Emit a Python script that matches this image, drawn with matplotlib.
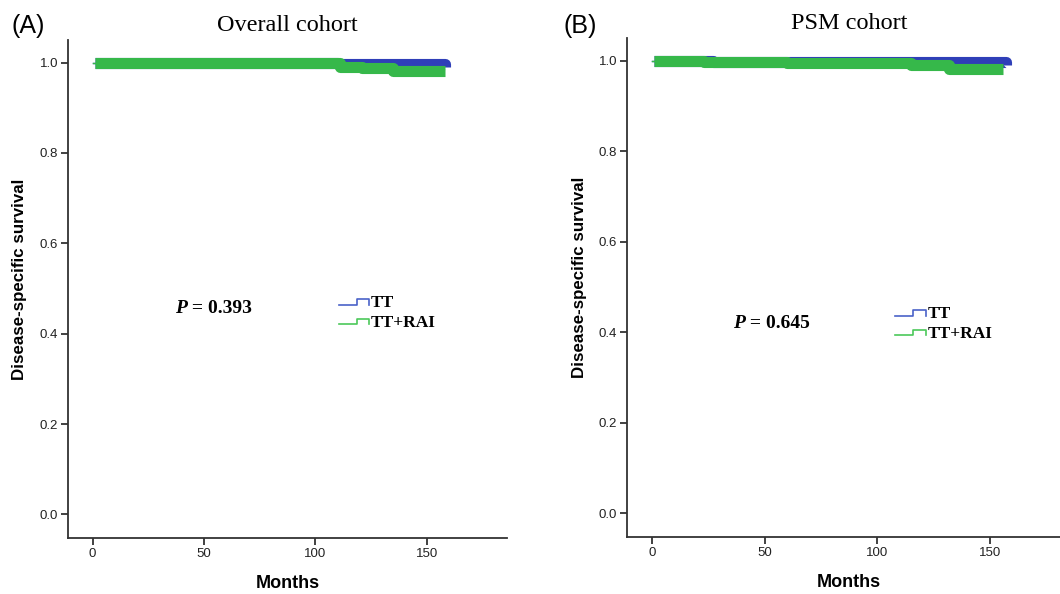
import matplotlib
matplotlib.use("Agg")
import matplotlib.pyplot as plt
from matplotlib.legend_handler import HandlerBase
from matplotlib.lines import Line2D

# Kaplan-Meier step curves (months, survival)
overall_tt_t = [0, 1, 40, 85, 110, 156, 158]
overall_tt_s = [1.0, 1.0, 0.999, 0.998, 0.997, 0.996, 0.991]
overall_rai_t = [0, 1, 45, 111, 121, 135, 158]
overall_rai_s = [1.0, 1.0, 0.998, 0.991, 0.987, 0.982, 0.982]

psm_tt_t = [0, 1, 27, 63, 118, 155, 157]
psm_tt_s = [1.0, 1.0, 0.997, 0.997, 0.997, 0.997, 0.990]
psm_rai_t = [0, 1, 23, 60, 115, 132, 156]
psm_rai_s = [1.0, 1.0, 0.997, 0.995, 0.990, 0.982, 0.982]

panel_tags = ["(A)", "(B)"]
panel_titles = ["Overall cohort", "PSM cohort"]
p_values = ["0.393", "0.645"]
group_names = ["TT", "TT+RAI"]

x_ticks = [0, 50, 100, 150]
y_ticks = [0.0, 0.2, 0.4, 0.6, 0.8, 1.0]

BLUE = "#2f3fb8"
GREEN = "#36b84a"
LEG_BLUE = "#4a62c8"
LEG_GREEN = "#4cc85a"
AXIS = "#333333"

SERIF = "Liberation Serif"
SANS = "Liberation Sans"


class StepHandler(HandlerBase):
    """Draws the little step glyph SPSS uses in its survival legends."""

    def create_artists(self, legend, orig_handle, xdescent, ydescent,
                       width, height, fontsize, trans):
        x0, x1 = -xdescent, -xdescent + width
        xm = x0 + 0.58 * width
        ylo = -ydescent + 0.2 * height
        yhi = -ydescent + 0.65 * height
        line = Line2D([x0, xm, xm, x1, x1], [ylo, ylo, yhi, yhi, ylo],
                      color=orig_handle.get_color(), lw=1.2, transform=trans)
        return [line]


def draw_curve(ax, t, s, color):
    # thin leading step then the dense band of censor marks
    ax.step(t[:2], s[:2], where="post", color=color, lw=1.0, zorder=3)
    ax.step(t[1:], s[1:], where="post", color=color, lw=8,
            solid_capstyle="butt", zorder=3)


fig = plt.figure(figsize=(10.6, 5.94), dpi=100)
ax_a = fig.add_axes([0.0642, 0.0943, 0.4142, 0.8385])
ax_b = fig.add_axes([0.5915, 0.0960, 0.4190, 0.8400])

curves = [
    ((overall_tt_t, overall_tt_s), (overall_rai_t, overall_rai_s)),
    ((psm_tt_t, psm_tt_s), (psm_rai_t, psm_rai_s)),
]
p_pos = [(0.244, 0.452), (0.239, 0.419)]
leg_pos = [(0.617, 0.488), (0.604, 0.463)]
ylabel_pos = [(-0.094, 0.52), (-0.090, 0.52)]

for i, ax in enumerate((ax_a, ax_b)):
    (tt_t, tt_s), (rai_t, rai_s) = curves[i]
    draw_curve(ax, tt_t, tt_s, BLUE)
    draw_curve(ax, rai_t, rai_s, GREEN)

    ax.set_xlim(-11, 186)
    ax.set_ylim(-0.052, 1.05)
    ax.set_xticks(x_ticks)
    ax.set_yticks(y_ticks)
    ax.set_yticklabels([f"{v:.1f}" for v in y_ticks])
    for side in ("top", "right"):
        ax.spines[side].set_visible(False)
    for side in ("left", "bottom"):
        ax.spines[side].set_color(AXIS)
        ax.spines[side].set_linewidth(1.3)
    ax.tick_params(direction="out", length=5, width=1.3, color=AXIS,
                   labelsize=9.5, labelcolor="#222222", pad=2)
    for lab in ax.get_xticklabels() + ax.get_yticklabels():
        lab.set_family(SANS)

    ax.set_xlabel("Months", family=SANS, fontweight="bold", fontsize=13,
                  labelpad=11)
    ax.set_ylabel("Disease-specific survival", family=SANS, fontweight="bold",
                  fontsize=12.2)
    ax.yaxis.set_label_coords(*ylabel_pos[i])
    ax.set_title(panel_titles[i], family=SERIF, fontsize=17.5, pad=6.5)

    # P value: italic P, then the number
    px, py = p_pos[i]
    t1 = ax.text(px, py, "P", transform=ax.transAxes, family=SERIF,
                 fontsize=14, fontweight="bold", style="italic",
                 va="baseline", ha="left")
    ax.annotate(" = " + p_values[i], xy=(1, 0), xycoords=t1,
                family=SERIF, fontsize=14, fontweight="bold",
                va="bottom", ha="left")

    handles = [Line2D([], [], color=LEG_BLUE), Line2D([], [], color=LEG_GREEN)]
    ax.legend(handles, group_names, loc="upper left",
              bbox_to_anchor=leg_pos[i], frameon=False,
              handler_map={Line2D: StepHandler()},
              prop={"family": SERIF, "weight": "bold", "size": 12.5},
              handlelength=1.75, handletextpad=0.1, labelspacing=0.2,
              borderpad=0.0, borderaxespad=0.0)

fig.text(0.011, 0.956, panel_tags[0], family=SANS, fontsize=18, va="center")
fig.text(0.532, 0.956, panel_tags[1], family=SANS, fontsize=18, va="center")

fig.savefig("out.png", dpi=100)
